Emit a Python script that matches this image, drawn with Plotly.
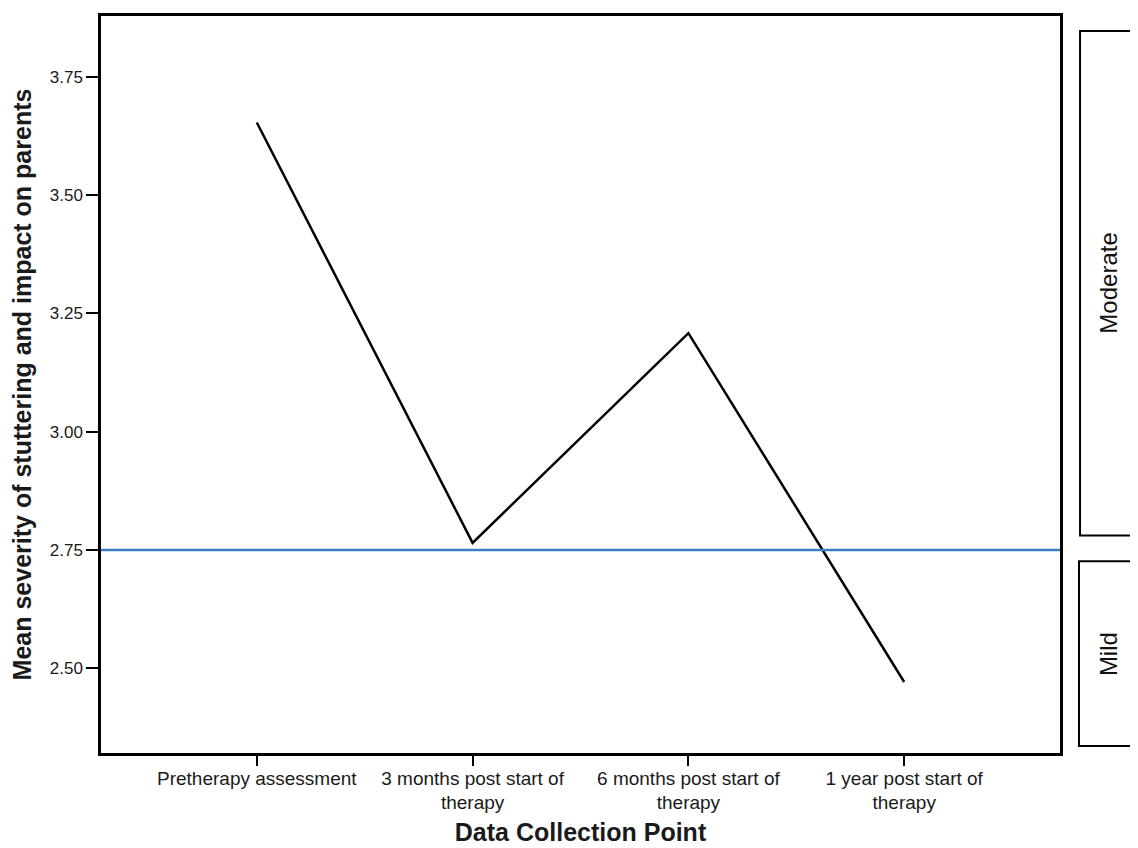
import plotly.graph_objects as go

categories = ["Pretherapy assessment", "3 months post start of<br>therapy",
              "6 months post start of<br>therapy", "1 year post start of<br>therapy"]
mean_severity = [3.653, 2.765, 3.208, 2.471]
threshold = 2.75
y_ticks = [2.50, 2.75, 3.00, 3.25, 3.50, 3.75]
band_labels = ["Moderate", "Mild"]

x_idx = list(range(len(categories)))

fig = go.Figure()
fig.add_trace(go.Scatter(
    x=x_idx, y=mean_severity, mode="lines",
    line=dict(color="black", width=2.5), showlegend=False, hoverinfo="skip"))

fig.add_shape(type="line", xref="paper", x0=0, x1=1, yref="y", y0=threshold, y1=threshold,
              line=dict(color="#3a7fc4", width=2.5))

# Severity band boxes on the right
boxes = [(1.0209, 1.10, 0.2951, 0.9798), (1.0198, 1.10, 0.0094, 0.2601)]
for (bx0, bx1, by0, by1), lab in zip(boxes, band_labels):
    fig.add_shape(type="rect", xref="paper", yref="paper", x0=bx0, x1=bx1, y0=by0, y1=by1,
                  line=dict(color="black", width=2), fillcolor="white", layer="above")
    fig.add_annotation(xref="paper", yref="paper", x=1.0505, y=(by0 + by1) / 2,
                       xanchor="center", yanchor="middle",
                       text=lab, textangle=-90, showarrow=False,
                       font=dict(family="Liberation Sans, Arial", size=24, color="#111"))

fig.update_layout(
    width=1130, height=840,
    margin=dict(l=93, r=78, t=5, b=93),
    paper_bgcolor="white", plot_bgcolor="white",
    font=dict(family="Liberation Sans, Arial", color="black"),
    xaxis=dict(
        range=[-0.722, 3.722], tickmode="array", tickvals=x_idx, ticktext=categories,
        showline=True, linecolor="black", linewidth=2.5, mirror=True,
        ticks="outside", ticklen=10, tickwidth=2, tickcolor="black",
        ticklabelstandoff=-4,
        showgrid=False, zeroline=False, tickangle=0,
        tickfont=dict(size=19, color="#1a1a1a"),
        title=dict(text="<b>Data Collection Point</b>", font=dict(size=25, color="#1a1a1a"), standoff=12),
    ),
    yaxis=dict(
        range=[2.321, 3.878], tickmode="array", tickvals=y_ticks,
        ticktext=[f"{v:.2f}" for v in y_ticks],
        showline=True, linecolor="black", linewidth=2.5, mirror=True,
        ticks="outside", ticklen=12, tickwidth=2, tickcolor="black",
        showgrid=False, zeroline=False,
        tickfont=dict(size=17, color="#1a1a1a"),
        title=dict(text="<b>Mean severity of stuttering and impact on parents</b>",
                   font=dict(size=25, color="#1a1a1a"), standoff=14),
    ),
)

fig.write_html("out.html")
